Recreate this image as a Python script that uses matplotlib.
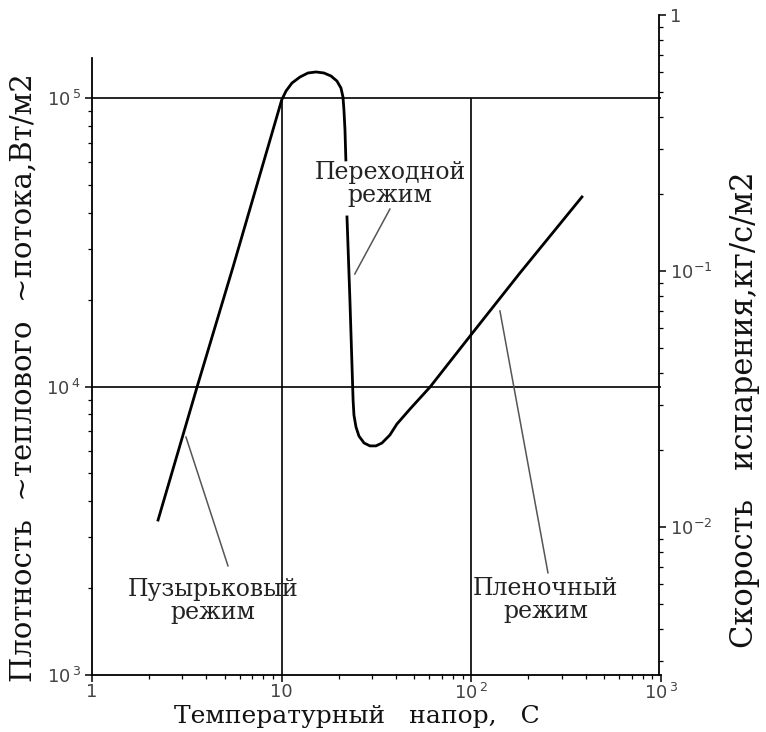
import numpy as np
import matplotlib
matplotlib.use("Agg")
import matplotlib.pyplot as plt
from matplotlib.ticker import LogLocator, NullFormatter, FixedLocator, FixedFormatter

# кривая кипения: температурный напор (С) и плотность теплового потока (Вт/м2)
dT = [2.23, 3.58, 5.54, 10.0, 10.54, 11.33, 12.49, 13.76, 15.16, 16.71, 18.2,
      19.56, 20.54, 21.05, 21.3, 21.57, 21.8,
      np.nan,  # разрыв под надписью "Переходной режим"
      22.1, 22.9, 23.8, 24.05, 24.65, 25.56, 27.2, 29.2, 31.4, 33.8, 37.2,
      40.5, 47.5, 60.5, 99.5, 180, 383]
q = [3445, 9960, 25950, 98400, 105700, 112700, 118240, 122100, 123100, 122100,
     119200, 114500, 108300, 100800, 90800, 77400, 61000,
     np.nan,
     38700, 19950, 8970, 7960, 7240, 6730, 6370, 6225, 6225, 6370, 6790,
     7410, 8355, 9950, 15090, 24700, 45400]

# подписи режимов: текст, положение текста, начало и конец выносной линии
regimes = ["Пузырьковый\nрежим", "Переходной\nрежим", "Пленочный\nрежим"]
text_pos = [(4.34, 1800), (37.2, 50400), (247, 1820)]
lead_from = [(5.21, 2390), (37.2, 41200), (253.5, 2260)]
lead_to = [(3.13, 6680), (24.3, 24550), (141.5, 18280)]

x_ticks = [1, 10, 100, 1000]
x_labels = ["1", "10", r"$10^{\,2}$", r"$10^{\,3}$"]
y_ticks = [1e3, 1e4, 1e5]
y_labels = [r"$10^{\,3}$", r"$10^{\,4}$", r"$10^{\,5}$"]
r_ticks = [1e-2, 1e-1, 1]
r_labels = [r"$10^{-2}$", r"$10^{-1}$", "1"]

serif = "DejaVu Serif"
tick_col = "#444444"

fig = plt.figure(figsize=(7.66, 7.32), dpi=100)
W, H = 766.0, 732.0
ax = fig.add_axes([92 / W, 57 / H, 569 / W, 617 / H])
ax.set_xscale("log")
ax.set_yscale("log")
ax.set_xlim(1, 1000)
ax.set_ylim(1e3, 10 ** (3 + 617 / 288.5))

for s in ["top", "right"]:
    ax.spines[s].set_visible(False)
for s in ["left", "bottom"]:
    ax.spines[s].set_linewidth(1.3)

# сетка по декадам (вертикальные линии только до 10^5)
ax.vlines([10, 100], 1e3, 1e5, color="black", lw=1.2, zorder=1)
ax.hlines([1e4, 1e5], 1, 1000, color="black", lw=1.2, zorder=1)

ax.plot(dT, q, color="black", lw=2.0, zorder=3)

for txt, tp, a, b in zip(regimes, text_pos, lead_from, lead_to):
    ax.plot([a[0], b[0]], [a[1], b[1]], color="#555555", lw=1.1, zorder=2)
    ax.text(tp[0], tp[1], txt, family=serif, fontsize=17, ha="center",
            va="center", linespacing=1.0, color="#222222", zorder=4)

ax.xaxis.set_major_locator(FixedLocator(x_ticks))
ax.xaxis.set_major_formatter(FixedFormatter(x_labels))
ax.xaxis.set_minor_locator(LogLocator(base=10, subs=np.arange(2, 10)))
ax.xaxis.set_minor_formatter(NullFormatter())
ax.yaxis.set_major_locator(FixedLocator(y_ticks))
ax.yaxis.set_major_formatter(FixedFormatter(y_labels))
ax.yaxis.set_minor_locator(LogLocator(base=10, subs=np.arange(2, 10)))
ax.yaxis.set_minor_formatter(NullFormatter())
ax.tick_params(which="major", length=5, width=1.1, labelsize=13,
               labelcolor=tick_col, pad=3)
ax.tick_params(axis="x", which="major", pad=1)
ax.tick_params(which="minor", length=3, width=0.9)

# правая ось - скорость испарения
ax2 = fig.add_axes([92 / W, 57 / H, 567 / W, 660 / H])
ax2.patch.set_visible(False)
for s in ["top", "left", "bottom"]:
    ax2.spines[s].set_visible(False)
ax2.spines["right"].set_linewidth(1.3)
ax2.set_yscale("log")
ax2.set_ylim(10 ** (-660 / 256.0), 1)
ax2.xaxis.set_visible(False)
ax2.yaxis.tick_right()
ax2.yaxis.set_major_locator(FixedLocator(r_ticks))
ax2.yaxis.set_major_formatter(FixedFormatter(r_labels))
ax2.yaxis.set_minor_locator(LogLocator(base=10, subs=np.arange(2, 10)))
ax2.yaxis.set_minor_formatter(NullFormatter())
ax2.tick_params(which="major", length=5, width=1.1, labelsize=13,
                labelcolor=tick_col, pad=3)
ax2.tick_params(which="minor", length=3, width=0.9)

fig.text(357 / W, 1 - 723 / H, "Температурный   напор,   С", family=serif,
         fontsize=18, ha="center", va="baseline", color="#111111")
fig.text(24 / W, 1 - 378 / H, "Плотность  ~теплового  ~потока,Вт/м2",
         family=serif, fontsize=21, rotation=90, ha="center", va="center",
         color="#111111")
fig.text(745 / W, 1 - 410 / H, "Скорость   испарения,кг/с/м2", family=serif,
         fontsize=22, rotation=90, ha="center", va="center", color="#111111")

fig.savefig("out.png", dpi=100)
